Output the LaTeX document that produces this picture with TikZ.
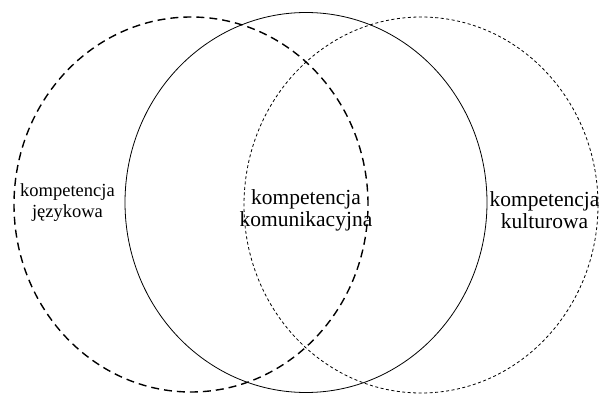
\documentclass[tikz,border=0pt]{standalone}
\usepackage{fontspec}
\setmainfont{Liberation Serif}
\usepackage{tikz}
\usetikzlibrary{positioning}
\tikzset{
  lng/.style={line width=1.4pt,dash pattern=on 8pt off 5pt},
  krt/.style={line width=0.8pt,dash pattern=on 3pt off 2.5pt},
  pel/.style={line width=0.8pt},
  opis/.style={align=center,inner sep=0pt}
}

\begin{document}
\begin{tikzpicture}[x=1pt,y=1pt]
  \useasboundingbox (0,0) rectangle (602,394);
  \foreach \s/\cx/\cy/\rx/\ry in {lng/191/189.5/177/187.5,pel/306/191.5/181/190,krt/421/189/177/188} {\draw[\s] (\cx,\cy) ellipse [x radius=\rx,y radius=\ry];}
  \node[opis,font=\fontsize{18.5}{21}\selectfont] (jez) at (67.5,191) {kompetencja\\językowa};
  \node[opis,font=\fontsize{21.5}{22}\selectfont] (kom) at (306,184) {kompetencja\\komunikacyjna};
  \node[opis,font=\fontsize{21.5}{22}\selectfont] (kul) at (544.5,184) {kompetencja\\kulturowa};
\end{tikzpicture}
\end{document}
